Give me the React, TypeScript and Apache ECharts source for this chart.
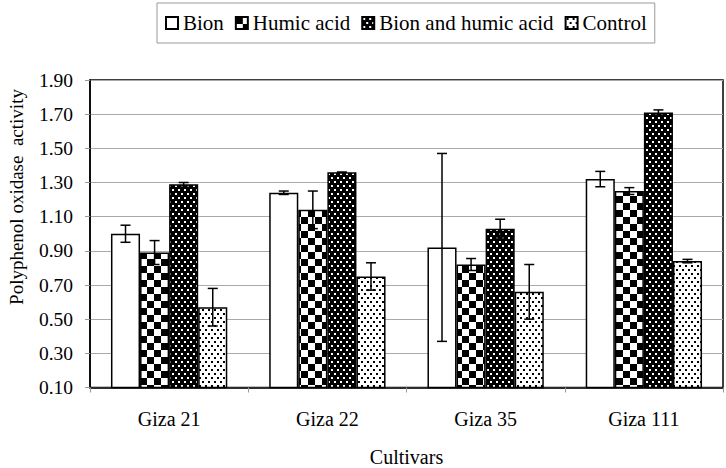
import React, { useEffect, useRef } from "react";
import * as echarts from "echarts";

const categories = ["Giza 21", "Giza 22", "Giza 35", "Giza 111"];
const seriesNames = ["Bion", "Humic acid", "Bion and humic acid", "Control"];
const bion = [1.0, 1.24, 0.92, 1.32];
const bionErr = [0.05, 0.01, 0.55, 0.045];
const humic = [0.89, 1.14, 0.82, 1.25];
const humicErr = [0.07, 0.11, 0.035, 0.02];
const both = [1.29, 1.36, 1.03, 1.71];
const bothErr = [0.01, 0.0, 0.055, 0.015];
const control = [0.57, 0.75, 0.66, 0.84];
const controlErr = [0.11, 0.08, 0.16, 0.01];
const yTicks = [0.1, 0.3, 0.5, 0.7, 0.9, 1.1, 1.3, 1.5, 1.7, 1.9];

const FONT = "Liberation Serif";
const GAP = 0.265;

function makeCanvas(w: number, h: number, draw: (ctx: CanvasRenderingContext2D) => void) {
  const c = document.createElement("canvas");
  c.width = w;
  c.height = h;
  const ctx = c.getContext("2d") as CanvasRenderingContext2D;
  draw(ctx);
  return c;
}

export default function App() {
  const ref = useRef<HTMLDivElement>(null);
  useEffect(() => {
    if (!ref.current) return;
    const chart = echarts.init(ref.current, undefined, { renderer: "svg" });

    const checker = makeCanvas(14, 14, (ctx) => {
      ctx.fillStyle = "#fff";
      ctx.fillRect(0, 0, 14, 14);
      ctx.fillStyle = "#000";
      ctx.fillRect(0, 0, 7, 7);
      ctx.fillRect(7, 7, 7, 7);
    });
    const darkDots = makeCanvas(6, 8, (ctx) => {
      ctx.fillStyle = "#000";
      ctx.fillRect(0, 0, 6, 8);
      ctx.fillStyle = "#fff";
      ctx.fillRect(1, 1, 2, 2);
      ctx.fillRect(4, 5, 2, 2);
    });
    const lightDots = makeCanvas(6, 8, (ctx) => {
      ctx.fillStyle = "#fff";
      ctx.fillRect(0, 0, 6, 8);
      ctx.fillStyle = "#000";
      ctx.fillRect(1, 1, 2, 2);
      ctx.fillRect(4, 5, 2, 2);
    });
    const pat = (c: HTMLCanvasElement) => ({
      image: c,
      repeat: "repeat",
      imageWidth: c.width,
      imageHeight: c.height,
    });
    const fills: any[] = ["#fff", pat(checker), pat(darkDots), pat(lightDots)];
    const values = [bion, humic, both, control];
    const errs = [bionErr, humicErr, bothErr, controlErr];

    const barSeries = seriesNames.map((name, i) => ({
      name,
      type: "bar",
      data: values[i],
      barGap: "0%",
      barCategoryGap: GAP * 100 + "%",
      itemStyle: { color: fills[i], borderColor: "#000", borderWidth: 1.5 },
    }));

    const errSeries = values.map((vals, s) => ({
      type: "custom",
      z: 5,
      encode: { x: 0, y: [1, 2] },
      data: vals.map((v, ci) => [ci, v - errs[s][ci], v + errs[s][ci]]),
      renderItem: (params: any, api: any) => {
        const ci = api.value(0);
        const lo = api.value(1);
        const hi = api.value(2);
        const band = api.size([1, 0])[0];
        const groupW = band * (1 - GAP);
        const barW = groupW / 4;
        const pHi = api.coord([ci, hi]);
        const pLo = api.coord([ci, lo]);
        const x = pHi[0] - groupW / 2 + barW * (s + 0.5);
        const cap = 5;
        const st = { stroke: "#000", lineWidth: 1.5 };
        return {
          type: "group",
          children: [
            { type: "line", shape: { x1: x, y1: pHi[1], x2: x, y2: pLo[1] }, style: st },
            { type: "line", shape: { x1: x - cap, y1: pHi[1], x2: x + cap, y2: pHi[1] }, style: st },
            { type: "line", shape: { x1: x - cap, y1: pLo[1], x2: x + cap, y2: pLo[1] }, style: st },
          ],
        };
      },
    }));

    chart.setOption({
      animation: false,
      backgroundColor: "#fff",
      textStyle: { fontFamily: FONT, color: "#000" },
      legend: {
        data: seriesNames,
        top: 3,
        left: 157,
        orient: "horizontal",
        icon: "rect",
        itemWidth: 12,
        itemHeight: 12,
        itemGap: 11,
        padding: [9, 8],
        borderColor: "#999",
        borderWidth: 1,
        textStyle: { fontFamily: FONT, fontSize: 21, color: "#000", lineHeight: 22 },
      },
      grid: {
        left: 90,
        right: 3,
        top: 80,
        bottom: 80.5,
        show: true,
        borderColor: "#000",
        borderWidth: 1.5,
        containLabel: false,
        outerBoundsMode: "none",
      },
      xAxis: {
        type: "category",
        data: categories,
        name: "Cultivars",
        nameLocation: "middle",
        nameGap: 59,
        nameTextStyle: { fontFamily: FONT, fontSize: 20, color: "#000", lineHeight: 20 },
        axisLine: { lineStyle: { color: "#000", width: 1.5 } },
        axisTick: { show: true, length: 5, lineStyle: { color: "#999" } },
        axisLabel: { fontFamily: FONT, fontSize: 20, color: "#000", margin: 21 },
      },
      yAxis: {
        type: "value",
        min: yTicks[0],
        max: yTicks[yTicks.length - 1],
        interval: 0.2,
        axisLine: { show: true, lineStyle: { color: "#000", width: 1.5 } },
        axisTick: { show: true, length: 5, lineStyle: { color: "#999" } },
        axisLabel: {
          fontFamily: FONT,
          fontSize: 19.5,
          color: "#000",
          margin: 17,
          formatter: (v: number) => v.toFixed(2),
        },
        splitLine: { show: true, lineStyle: { color: "#aaa", width: 1 } },
      },
      graphic: [
        {
          type: "text",
          x: 16,
          y: 197,
          rotation: Math.PI / 2,
          style: {
            text: "Polyphenol oxidase  activity",
            fontFamily: FONT,
            fontSize: 19,
            fill: "#000",
            align: "center",
            verticalAlign: "middle",
          },
        },
      ],
      series: [...barSeries, ...errSeries],
    });
    return () => chart.dispose();
  }, []);
  return (
    <div
      ref={ref}
      style={{ position: "absolute", left: 0, top: 0, width: 726, height: 468, background: "#fff" }}
    />
  );
}
